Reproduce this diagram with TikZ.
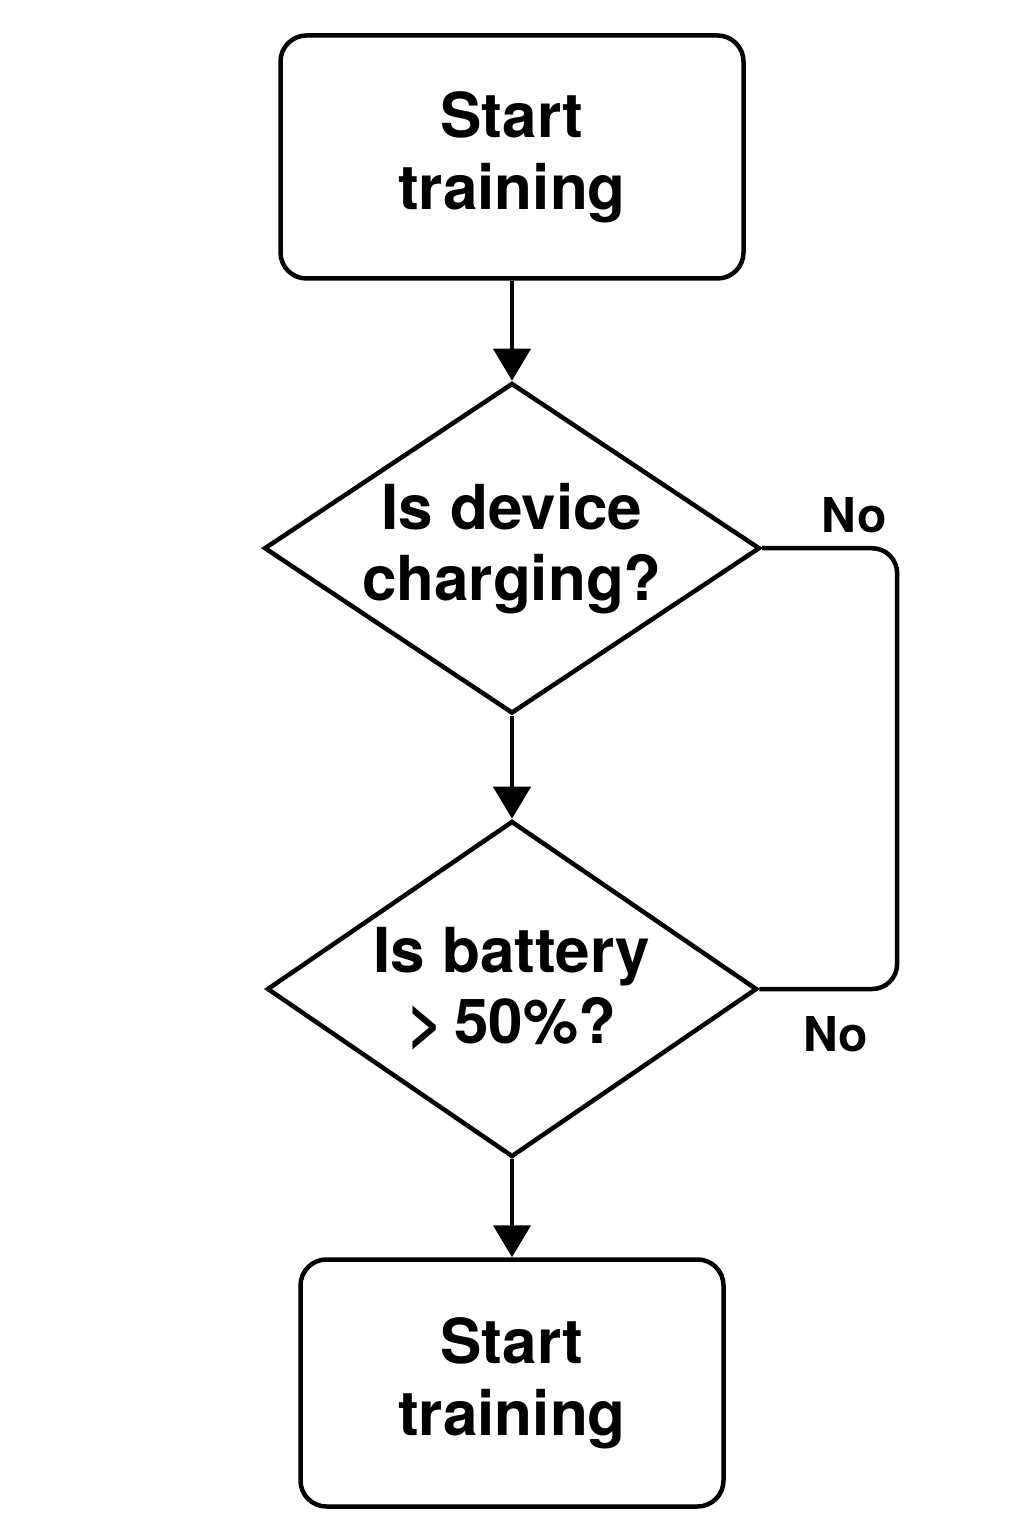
\documentclass[tikz,border=0pt]{standalone}
\usepackage{fontspec}
\setmainfont{TeX Gyre Heros}
\usetikzlibrary{positioning,shapes.geometric,arrows.meta}

\tikzstyle{startstop} = [rectangle, rounded corners=26pt, minimum height=243pt, text centered, align=center, draw=black, line width=4.5pt, font=\fontsize{62}{72}\selectfont\bfseries]
\tikzstyle{decision} = [diamond, aspect=1.5, minimum width=490pt, minimum height=328pt, inner sep=0pt, text centered, align=center, draw=black, line width=4.5pt, font=\fontsize{62}{71}\selectfont\bfseries]
\tikzstyle{arrow} = [line width=4.5pt, -{Triangle[width=37pt,length=32pt]}]
\tikzstyle{nolabel} = [inner sep=0pt, font=\fontsize{48}{56}\selectfont\bfseries]

\begin{document}
\begin{tikzpicture}[x=1pt, y=1pt]
        \useasboundingbox (0,0) rectangle (1024,1536);
        \node (start) [startstop, minimum width=463pt] at (512,1379) {Start\\training};
        \node (chg)   [decision, below=100pt of start] {Is device\\charging?};
        \node (bat)   [decision, below=103pt of chg, minimum height=336pt] {Is battery\\>\,50\%?};
        \node (train) [startstop, minimum width=423pt, minimum height=247pt, below=98pt of bat] {Start\\training};

        \draw [arrow] (start) -- (chg);
        \draw [arrow] (chg) -- (bat);
        \draw [arrow] (bat) -- (train);

        % the two "No" branches meet on the right
        \draw [line width=4.5pt, rounded corners=25pt] (chg.east) -- ++(135,0) |- (bat.east);
        \node (no1) [nolabel] at ([shift={(92,33)}]chg.east) {No};
        \node (no2) [nolabel] at ([shift={(76,-45)}]bat.east) {No};
    \end{tikzpicture}
\end{document}
